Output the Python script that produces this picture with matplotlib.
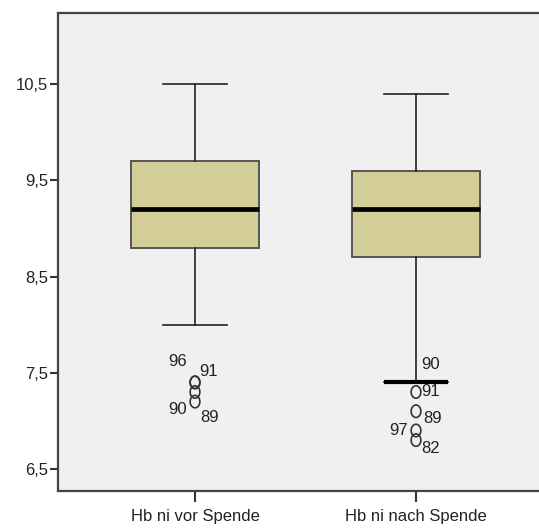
import matplotlib
matplotlib.use("Agg")
import matplotlib.pyplot as plt
from matplotlib.path import Path
import numpy as np

categories = ["Hb ni vor Spende", "Hb ni nach Spende"]
whisker_low = [8.0, 7.4]
q1 = [8.8, 8.7]
median = [9.2, 9.2]
q3 = [9.7, 9.6]
whisker_high = [10.5, 10.4]
outliers = [[7.4, 7.4, 7.3, 7.2], [7.3, 7.1, 6.9, 6.8]]
outlier_labels = [["96", "91", "90", "89"], ["91", "89", "97", "82"]]
whisker_label = [None, "90"]
yticks = [6.5, 7.5, 8.5, 9.5, 10.5]
ytick_labels = ["6,5", "7,5", "8,5", "9,5", "10,5"]

plt.rcParams['font.family'] = ['Liberation Sans', 'DejaVu Sans']

W, H = 539, 528
fig = plt.figure(figsize=(W / 100, H / 100), dpi=100)
left_px, right_px, top_px, bottom_px = 58, 539, 13, 491
ax = fig.add_axes([left_px / W, 1 - bottom_px / H, (right_px - left_px) / W, (bottom_px - top_px) / H])
ax.set_facecolor("#F0F0F0")

stats = []
for i in range(len(categories)):
    stats.append(dict(med=median[i], q1=q1[i], q3=q3[i], whislo=whisker_low[i],
                      whishi=whisker_high[i], fliers=[], label=categories[i]))
positions = [1, 2]
ax.bxp(stats, positions=positions, widths=0.58, patch_artist=True, showfliers=False,
       boxprops=dict(facecolor="#D3CE98", edgecolor="#555555", linewidth=1.4),
       medianprops=dict(color="black", linewidth=3.4, solid_capstyle="butt"),
       whiskerprops=dict(color="#222222", linewidth=1.2),
       capprops=dict(color="#222222", linewidth=1.2), capwidths=0.29)

# thick lower cap of second box
ax.plot([positions[1] - 0.145, positions[1] + 0.145], [whisker_low[1]] * 2,
        color="black", linewidth=3.0, solid_capstyle="butt", zorder=3)

# slightly tall elliptical circle marker (reference is vertically stretched)
t = np.linspace(0, 2 * np.pi, 60)
ell = Path(np.column_stack([0.78 * np.cos(t), np.sin(t)]), closed=True)

for i, pos in enumerate(positions):
    ax.scatter([pos] * len(outliers[i]), outliers[i], s=80, marker=ell, facecolors="none",
               edgecolors="#333333", linewidths=1.2, zorder=4)

fs = 12
off1 = [(-0.077, 0.215), (0.062, 0.11), (-0.077, -0.185), (0.065, -0.17)]
for v, lab, (dx, dy) in zip(outliers[0], outlier_labels[0], off1):
    ax.text(positions[0] + dx, v + dy, lab, ha="center", va="center", fontsize=fs, color="#222222")
off2 = [(0.068, 0.0), (0.077, -0.075), (-0.077, 0.0), (0.068, -0.085)]
for v, lab, (dx, dy) in zip(outliers[1], outlier_labels[1], off2):
    ax.text(positions[1] + dx, v + dy, lab, ha="center", va="center", fontsize=fs, color="#222222")
ax.text(positions[1] + 0.068, whisker_low[1] + 0.19, whisker_label[1], ha="center", va="center",
        fontsize=fs, color="#222222")

ax.set_xlim(1 - 137 / 221, 2 + 123 / 221)
ax.set_ylim(6.5 - 22 / 96, 10.5 + 71 / 96)
ax.set_yticks(yticks)
ax.set_yticklabels(ytick_labels)
ax.set_xticks(positions)
ax.set_xticklabels(categories)
ax.tick_params(axis="y", direction="out", length=6, width=1.5, color="#333333", labelsize=12,
               pad=1, labelcolor="#222222")
ax.tick_params(axis="x", direction="out", length=8, width=1.5, color="#333333", labelsize=12,
               pad=5, labelcolor="#222222")
for s in ["left", "bottom", "top"]:
    ax.spines[s].set_color("#444444")
    ax.spines[s].set_linewidth(1.6)
ax.spines["right"].set_visible(False)

fig.savefig("out.png", dpi=100, facecolor="white")
